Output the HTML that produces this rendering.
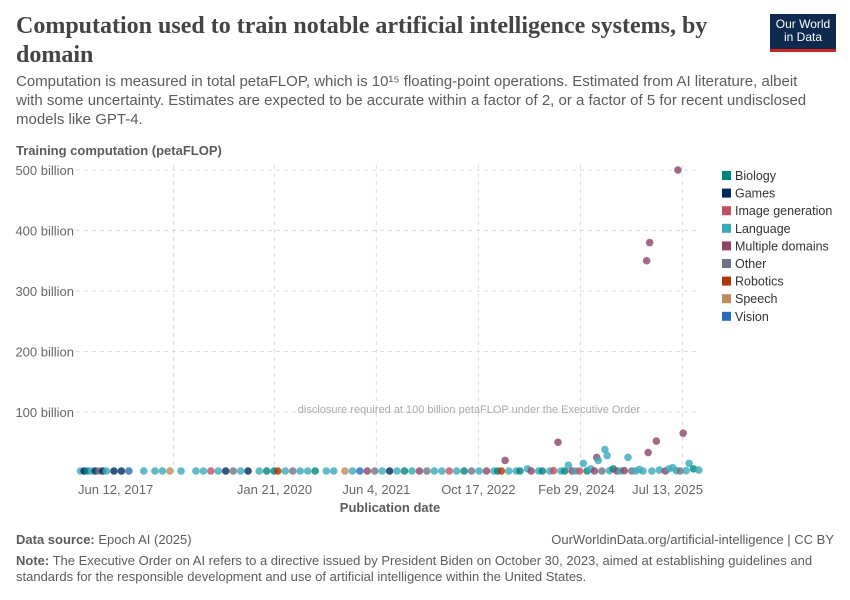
<!DOCTYPE html>
<html><head><meta charset="utf-8">
<style>
body{margin:0;background:#fff;font-family:"Liberation Sans",sans-serif;}
#wrap{position:relative;width:850px;height:600px;overflow:hidden;}
h1{position:absolute;left:16px;top:12px;margin:0;width:700px;font-family:"Liberation Serif",serif;font-size:24px;line-height:29px;color:#444;font-weight:bold;}
.sub{position:absolute;left:16px;top:72px;width:800px;font-size:15px;line-height:19px;color:#5b5b5b;}
.logo{position:absolute;left:770px;top:14px;width:66px;height:38px;background:#0f2a4f;color:#fff;font-size:12px;line-height:13px;text-align:center;padding-top:4px;box-sizing:border-box;border-bottom:3px solid #ce261e;}
.foot{position:absolute;font-size:13px;color:#5b5b5b;}
</style></head><body>
<div id="wrap">
<h1>Computation used to train notable artificial intelligence systems, by domain</h1>
<div class="logo">Our World<br>in Data</div>
<div class="sub">Computation is measured in total petaFLOP, which is 10¹⁵ floating-point operations. Estimated from AI literature, albeit with some uncertainty. Estimates are expected to be accurate within a factor of 2, or a factor of 5 for recent undisclosed models like GPT-4.</div>
<svg id="chart" width="850" height="600" style="position:absolute;left:0;top:0"></svg>
<div class="foot" style="left:16px;top:532px"><b>Data source:</b> Epoch AI (2025)</div>
<div class="foot" style="right:16px;top:532px">OurWorldinData.org/artificial-intelligence | CC BY</div>
<div class="foot" style="left:16px;top:553px;width:800px;line-height:16px"><b>Note:</b> The Executive Order on AI refers to a directive issued by President Biden on October 30, 2023, aimed at establishing guidelines and standards for the responsible development and use of artificial intelligence within the United States.</div>
</div>
<script>
const domains=["Biology","Games","Image generation","Language","Multiple domains","Other","Robotics","Speech","Vision"];
const colors=["#00847e","#00295b","#c15065","#38aaba","#8c4569","#6d7584","#b13507","#be8a5c","#286bbb"];
const yTicks=[0,100,200,300,400,500];
const yTickLabels=["","100 billion","200 billion","300 billion","400 billion","500 billion"];
const xTickDates=[2017.444,2020.055,2021.422,2022.792,2024.162,2025.532];
const xTickLabels=["Jun 12, 2017","Jan 21, 2020","Jun 4, 2021","Oct 17, 2022","Feb 29, 2024","Jul 13, 2025"];
// publication dates (decimal year), compute (billion petaFLOP), domain index
const dates=[2017.45,2017.5,2017.55,2017.6,2017.65,2017.7,2017.75,2017.8,2017.9,2018.0,2018.1,2018.3,2018.45,2018.55,2018.65,2018.8,
2019.0,2019.1,2019.2,2019.3,2019.4,2019.5,2019.6,2019.7,2019.85,2019.95,2020.05,2020.1,2020.2,2020.3,2020.4,2020.5,2020.6,2020.75,2020.85,
2021.0,2021.1,2021.2,2021.3,2021.4,2021.5,2021.6,2021.7,2021.8,2021.9,2022.0,2022.1,2022.2,2022.3,2022.4,2022.5,2022.6,2022.7,2022.8,2022.9,
2023.0,2023.05,2023.1,2023.15,2023.2,2023.3,2023.35,2023.45,2023.5,2023.6,2023.65,2023.75,2023.8,2023.86,2023.9,2023.95,2024.0,2024.05,2024.1,
2024.15,2024.2,2024.25,2024.3,2024.35,2024.38,2024.4,2024.45,2024.49,2024.52,2024.55,2024.6,2024.65,2024.7,2024.75,2024.8,2024.85,2024.9,2024.95,
2025.0,2025.05,2025.07,2025.09,2025.12,2025.18,2025.22,2025.3,2025.35,2025.4,2025.45,2025.47,2025.5,2025.54,2025.58,2025.62,2025.68,2025.75];
const values=[0.5,0.5,0.5,0.5,0.5,0.5,0.5,0.5,0.5,0.5,0.5,0.5,0.5,0.5,0.5,0.5,
0.5,0.5,0.5,0.5,0.5,0.5,0.5,0.5,0.5,0.5,0.5,0.5,0.5,0.5,0.5,0.5,0.5,0.5,0.5,
0.5,0.5,0.5,0.5,0.5,0.5,0.5,0.5,0.5,0.5,0.5,0.5,0.5,0.5,0.5,0.5,0.5,0.5,1,1,
1,2,1,20,1,2,1,6,1,2,1,1,3,50,1,2,12,2,1,
2,15,1,6,2,25,20,2,38,28,3,6,1,2,3,25,1,2,5,
2,350,33,380,1,52,4,2,6,8,3,500,1,65,3,15,6,4];
const doms=[3,1,0,3,1,5,1,3,1,1,8,3,3,3,7,3,
3,3,2,3,1,5,3,1,3,0,0,6,3,5,3,3,0,3,3,
7,3,8,4,5,3,1,3,0,3,4,5,3,3,2,3,0,5,3,4,
3,0,6,4,3,3,0,3,4,3,0,3,2,4,3,0,3,4,3,
2,3,0,3,4,4,3,5,3,3,3,0,4,3,4,3,5,3,3,
3,4,4,4,3,4,3,4,3,3,3,4,5,4,3,3,0,3];
const svg=document.getElementById('chart');const NS="http://www.w3.org/2000/svg";
const L=76,R=700,Y0=472.5,Y500=170;
const xS=d=>80+(d-2017.444)*74.5;
const yS=v=>Y0-(v/500)*(Y0-Y500);
function mk(t,a,txt){const e=document.createElementNS(NS,t);for(const k in a)e.setAttribute(k,a[k]);if(txt!=null)e.textContent=txt;svg.appendChild(e);return e;}
let t=mk('text',{x:16,y:155,'font-size':13,'font-weight':'bold',fill:'#5b5b5b'},'Training computation (petaFLOP)');


yTicks.forEach((v,i)=>{if(v===0)return;
 const g=mk('line',{x1:L,x2:R,y1:yS(v),y2:yS(v),stroke:'#ddd','stroke-dasharray':'4,4'});
 
 
 const l=mk('text',{x:74,y:yS(v)+5,'text-anchor':'end','font-size':13,fill:'#666'},yTickLabels[i]);
 
 });
[2018.7,2020.055,2021.422,2022.792,2024.162,2025.532].forEach(d=>{
 const g=mk('line',{x1:xS(d),x2:xS(d),y1:165,y2:Y0,stroke:'#ddd','stroke-dasharray':'4,4'});
 
 });
xTickDates.forEach((d,i)=>{let x=xS(d),anc='middle';if(i===0){anc='start';x=xS(d)-2}
 if(i===xTickDates.length-2){x=xS(d)-4}
 if(i===xTickDates.length-1){x=703;anc='end'}
 const l=mk('text',{x:x,y:494,'text-anchor':anc,'font-size':13,fill:'#666'},xTickLabels[i]);
 
 });
t=mk('text',{x:390,y:512,'text-anchor':'middle','font-size':13,'font-weight':'bold',fill:'#5b5b5b'},'Publication date');


t=mk('text',{x:640,y:413,'text-anchor':'end','font-size':11,fill:'#aaa'},'disclosure required at 100 billion petaFLOP under the Executive Order');


dates.forEach((d,i)=>{
 const c=mk('circle',{cx:xS(d),cy:Math.min(yS(values[i]),471),r:3.8,fill:colors[doms[i]],'fill-opacity':0.8});
 
 });
domains.forEach((n,i)=>{const y=177+i*17.6;
 const r=mk('rect',{x:722,y:y-6,width:9,height:9,fill:colors[i]});
 
 
 const l=mk('text',{x:735,y:y+3,'font-size':12.5,fill:'#333'},n);
 
 });
</script>
</body></html>
